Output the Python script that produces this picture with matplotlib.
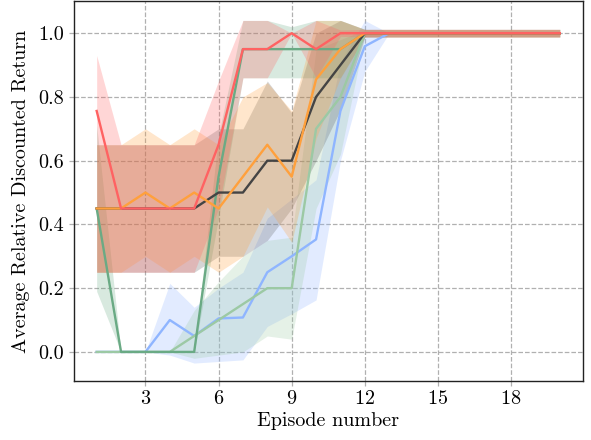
import matplotlib
matplotlib.use("Agg")
import matplotlib.pyplot as plt
import numpy as np

plt.rcParams['font.family'] = 'serif'
plt.rcParams['font.serif'] = ['cmr10']
plt.rcParams['mathtext.fontset'] = 'cm'
plt.rcParams['axes.unicode_minus'] = False
plt.rcParams['axes.formatter.use_mathtext'] = True

episodes = list(range(1, 21))

gray_mean = [0.45, 0.45, 0.45, 0.45, 0.45, 0.50, 0.50, 0.60, 0.60, 0.80, 0.90] + [1.0] * 9
gray_lo   = [0.25, 0.25, 0.25, 0.25, 0.25, 0.30, 0.30, 0.35, 0.45, 0.60, 0.76] + [0.988] * 9
gray_hi   = [0.65, 0.65, 0.65, 0.65, 0.65, 0.70, 0.70, 0.85, 0.75, 1.00, 1.04] + [1.012] * 9

orange_mean = [0.45, 0.45, 0.50, 0.45, 0.50, 0.45, 0.55, 0.65, 0.55, 0.855, 0.95] + [1.0] * 9
orange_lo   = [0.25, 0.25, 0.30, 0.25, 0.30, 0.25, 0.30, 0.455, 0.344, 0.67, 0.86] + [0.988] * 9
orange_hi   = [0.65, 0.65, 0.70, 0.65, 0.70, 0.65, 0.80, 0.845, 0.756, 1.04, 1.04] + [1.012] * 9

red_mean = [0.756, 0.45, 0.45, 0.45, 0.45, 0.65, 0.95, 0.95, 1.00, 0.95, 1.00] + [1.0] * 9
red_lo   = [0.25, 0.25, 0.25, 0.25, 0.25, 0.45, 0.86, 0.86, 1.00, 0.86, 0.99] + [0.988] * 9
red_hi   = [0.93, 0.65, 0.65, 0.65, 0.65, 0.85, 1.04, 1.04, 1.00, 1.04, 1.01] + [1.012] * 9

green_mean = [0.45, 0.0, 0.0, 0.0, 0.0, 0.55, 0.95, 0.95, 0.95, 0.95, 0.95] + [1.0] * 9
green_lo   = [0.19, 0.0, 0.0, 0.0, 0.0, 0.42, 0.86, 0.86, 0.86, 0.86, 0.86] + [0.988] * 9
green_hi   = [0.71, 0.0, 0.0, 0.0, 0.0, 0.68, 1.04, 1.04, 1.02, 1.04, 1.04] + [1.012] * 9

lgreen_mean = [0.0, 0.0, 0.0, 0.0, 0.05, 0.10, 0.15, 0.20, 0.20, 0.70, 0.80] + [1.0] * 9
lgreen_lo   = [0.0, 0.0, 0.0, 0.0, -0.02, -0.01, 0.0, 0.05, 0.04, 0.45, 0.62] + [0.99] * 9
lgreen_hi   = [0.0, 0.0, 0.0, 0.0, 0.13, 0.22, 0.30, 0.35, 0.36, 0.95, 0.98] + [1.01] * 9

blue_mean = [0.0, 0.0, 0.0, 0.10, 0.05, 0.105, 0.108, 0.25, 0.30, 0.353, 0.756, 0.959] + [1.0] * 8
blue_lo   = [0.0, 0.0, 0.0, -0.01, -0.035, -0.03, -0.025, 0.08, 0.12, 0.163, 0.60, 0.88] + [1.0] * 8
blue_hi   = [0.0, 0.0, 0.0, 0.215, 0.14, 0.20, 0.25, 0.42, 0.48, 0.54, 0.91, 1.04] + [1.0] * 8

C_GRAY = '#444444'
C_ORANGE = '#ffa03c'
C_RED = '#ff6262'
C_GREEN = '#6aaa84'
C_LGREEN = '#9cc9a4'
C_BLUE = '#8fb5ff'

fig = plt.figure(figsize=(5.91, 4.40), dpi=100)
ax = fig.add_axes([0.1244, 0.135, 0.862, 0.862])

series = [
    (blue_mean, blue_lo, blue_hi, C_BLUE),
    (lgreen_mean, lgreen_lo, lgreen_hi, C_LGREEN),
    (green_mean, green_lo, green_hi, C_GREEN),
    (gray_mean, gray_lo, gray_hi, C_GRAY),
    (orange_mean, orange_lo, orange_hi, C_ORANGE),
    (red_mean, red_lo, red_hi, C_RED),
]

for mean, lo, hi, c in series:
    a = 0.22 if c == C_GRAY else 0.26
    ax.fill_between(episodes, lo, hi, color=c, alpha=a, linewidth=0)

for mean, lo, hi, c in series:
    ax.plot(episodes, mean, color=c, linewidth=1.7)

ax.set_xlim(0.05, 20.95)
ax.set_ylim(-0.09, 1.1)
ax.set_xticks([3, 6, 9, 12, 15, 18])
ax.set_yticks([0.0, 0.2, 0.4, 0.6, 0.8, 1.0])
ax.set_yticklabels(['0.0', '0.2', '0.4', '0.6', '0.8', '1.0'])
ax.grid(True, linestyle='--', color='#b0b0b0', linewidth=0.9)
ax.set_axisbelow(True)
ax.tick_params(axis='both', labelsize=14.5, color='#b0b0b0', length=3.5, width=0.9)
for s in ax.spines.values():
    s.set_color('#222222')
    s.set_linewidth(1.0)

ax.set_xlabel('Episode number', fontsize=14.5, labelpad=3)
ax.set_ylabel('Average Relative Discounted Return', fontsize=14.5, labelpad=6)

fig.savefig('out.png', dpi=100)
